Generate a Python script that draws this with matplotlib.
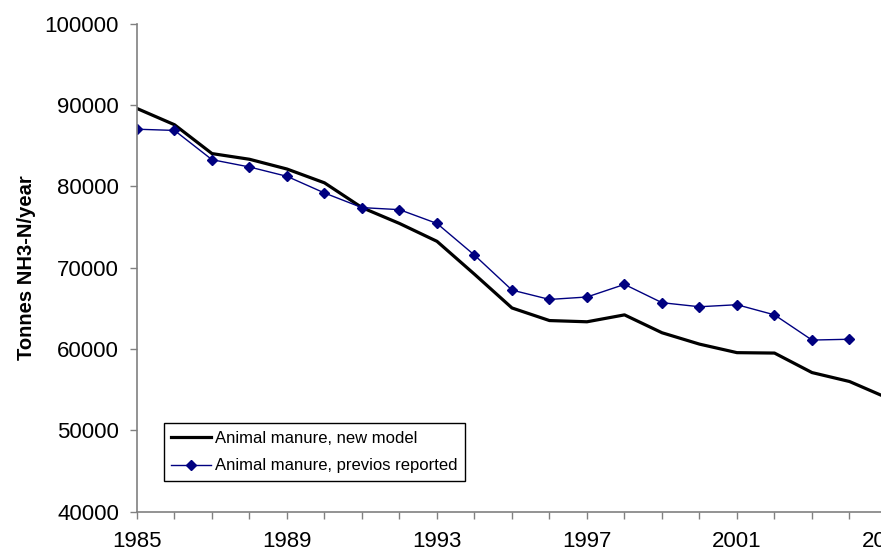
import matplotlib
matplotlib.use('Agg')
from matplotlib import pyplot as plt

plt.rcParams['font.family'] = ['Liberation Sans', 'DejaVu Sans']

# NH3-N emissions from animal manure, tonnes per year
years = list(range(1985, 2006))
new_model = [89600, 87600, 84050, 83350, 82150, 80450, 77400, 75450, 73250, 69200,
             65050, 63500, 63350, 64200, 62000, 60600, 59550, 59500, 57100, 56000, 54000]
years_prev = list(range(1985, 2005))
prev_reported = [87050, 86900, 83300, 82400, 81250, 79200, 77400, 77150, 75450, 71550,
                 67250, 66100, 66400, 67950, 65700, 65200, 65450, 64200, 61100, 61200]

fig = plt.figure(figsize=(8.81, 5.54), dpi=100)
ax = fig.add_axes([0.1555, 0.0767, 0.8513, 0.880])

ax.plot(years, new_model, color='black', linewidth=2.3, label='Animal manure, new model')
ax.plot(years_prev, prev_reported, color='#000080', linewidth=1.0, marker='D',
        markersize=5.5, label='Animal manure, previos reported')

ax.set_xlim(1985, 2005)
ax.set_ylim(40000, 100000)
ax.set_xticks(range(1985, 2006, 4))
ax.set_xticks(range(1985, 2006), minor=True)
ax.set_yticks(range(40000, 100001, 10000))
ax.tick_params(axis='both', which='both', direction='out', length=5, width=1,
               color='#808080', labelsize=16)
ax.tick_params(axis='y', pad=8)
ax.tick_params(axis='x', pad=9)

for side in ['top', 'right']:
    ax.spines[side].set_visible(False)
for side in ['left', 'bottom']:
    ax.spines[side].set_color('#808080')
    ax.spines[side].set_linewidth(1.2)

ax.set_ylabel('Tonnes NH3-N/year', fontsize=14.5, fontweight='bold')
ax.yaxis.set_label_coords(-0.135, 0.5)

leg = ax.legend(loc='lower left', bbox_to_anchor=(0.036, 0.0626), borderaxespad=0,
                fontsize=12, fancybox=False, edgecolor='black', framealpha=1,
                handlelength=2.4, handletextpad=0.2, labelspacing=0.75, borderpad=0.45)
leg.get_frame().set_linewidth(1.0)

fig.savefig('out.png', dpi=100)
